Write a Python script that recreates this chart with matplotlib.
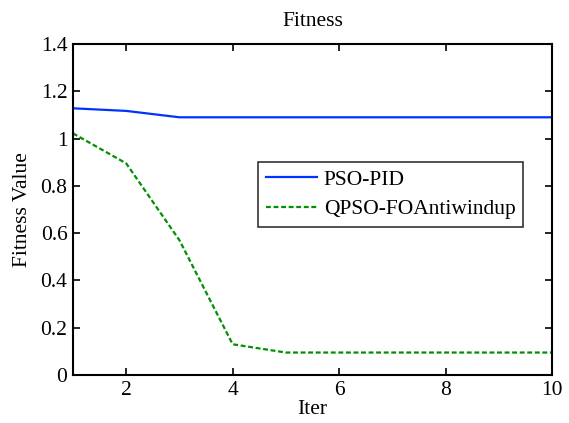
import matplotlib
matplotlib.use("Agg")
import matplotlib.pyplot as plt

iters = [1, 2, 3, 4, 5, 6, 7, 8, 9, 10]
pso_pid = [1.128, 1.117, 1.090, 1.090, 1.090, 1.090, 1.090, 1.090, 1.090, 1.090]
qpso_fo = [1.022, 0.895, 0.570, 0.130, 0.095, 0.095, 0.095, 0.095, 0.095, 0.095]
xticks = [2, 4, 6, 8, 10]
yticks = [0, 0.2, 0.4, 0.6, 0.8, 1.0, 1.2, 1.4]
ytick_labels = ["0", "0.2", "0.4", "0.6", "0.8", "1", "1.2", "1.4"]

plt.rcParams['font.family'] = ['Liberation Serif', 'DejaVu Serif']
FS = 15.5

fig = plt.figure(figsize=(5.69, 4.23), dpi=100)
ax = fig.add_axes([73/569, 1-375/423, (552-73)/569, (375-44)/423])

ax.plot(iters, pso_pid, color='#0033ff', lw=1.6, label='PSO-PID')
ax.plot(iters, qpso_fo, color='#009000', lw=1.6, ls=(0, (2.2, 1.2)), label='QPSO-FOAntiwindup')

ax.set_xlim(1, 10)
ax.set_ylim(0, 1.4)
ax.set_xticks(xticks)
ax.set_yticks(yticks)
ax.set_yticklabels(ytick_labels)
ax.tick_params(direction='in', length=5, width=1.2, top=True, right=True, labelsize=FS, pad=4)
for s in ax.spines.values():
    s.set_linewidth(1.5)

ax.set_title('Fitness', fontsize=FS, pad=13)
ax.set_xlabel('Iter', fontsize=FS, labelpad=0)
ax.set_ylabel('Fitness Value', fontsize=FS, labelpad=6)

leg = ax.legend(loc='upper left', bbox_to_anchor=((258-73)/479, 1-(162-44)/331),
                fontsize=FS, frameon=True, fancybox=False, edgecolor='black',
                handlelength=2.4, borderpad=0.35, labelspacing=0.45, handletextpad=0.3,
                borderaxespad=0)
leg.get_frame().set_linewidth(1.2)

fig.savefig('out.png', dpi=100)
